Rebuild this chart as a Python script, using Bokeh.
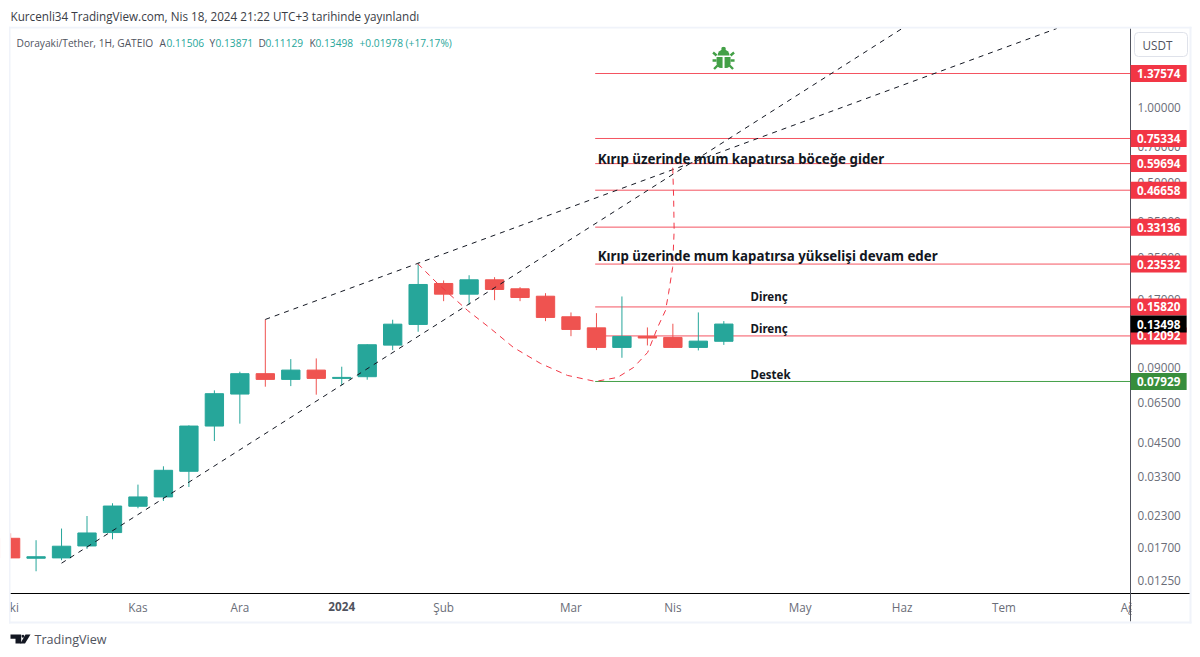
import base64
from bokeh.plotting import figure
from bokeh.embed import file_html
from bokeh.resources import INLINE
from bokeh.core.properties import value
from bokeh.models import (Range1d, FixedTicker, PrintfTickFormatter, Label, BoxAnnotation,
                          PolyAnnotation, ColumnDataSource)

GREEN = "#26a69a"
RED = "#ef5350"
LINE_RED = "#f23645"
FONT = "Open Sans"

# Weekly candles, one per bar of the time axis
opens = [0.01854, 0.01541, 0.01546, 0.01727, 0.01955, 0.02495, 0.02720, 0.03449, 0.05246, 0.07055,
         0.08522, 0.08083, 0.08811, 0.08158, 0.08288, 0.11104, 0.13449, 0.19658, 0.17802, 0.20343,
         0.18716, 0.17470, 0.14441, 0.13034, 0.10870, 0.12035, 0.11924, 0.10870, 0.11506]
highs = [0.01942, 0.01821, 0.02029, 0.02279, 0.02565, 0.03049, 0.03613, 0.05280, 0.07301, 0.08680,
         0.14087, 0.09755, 0.09818, 0.09091, 0.11176, 0.14048, 0.23877, 0.20212, 0.21216, 0.20842,
         0.19000, 0.17968, 0.15030, 0.14931, 0.17429, 0.13081, 0.13537, 0.15030, 0.13871]
lows = [0.01541, 0.01366, 0.01513, 0.01681, 0.01837, 0.02449, 0.02620, 0.02983, 0.04566, 0.05364,
        0.07554, 0.07596, 0.07015, 0.07647, 0.08061, 0.10603, 0.12570, 0.16687, 0.16139, 0.16844,
        0.16687, 0.13866, 0.12064, 0.10603, 0.09874, 0.11073, 0.10812, 0.10573, 0.11129]
closes = [0.01546, 0.01563, 0.01723, 0.01948, 0.02500, 0.02720, 0.03481, 0.05246, 0.07081, 0.08522,
          0.08083, 0.08811, 0.08158, 0.08234, 0.11144, 0.13485, 0.19477, 0.17802, 0.20343, 0.18595,
          0.17268, 0.14350, 0.12841, 0.10870, 0.12035, 0.11860, 0.10870, 0.11523, 0.13498]

# Horizontal levels
level_prices = [1.37574, 0.75334, 0.59694, 0.46658, 0.33136, 0.23532, 0.15820, 0.12092]
support_price = 0.07929
last_price = 0.13498
level_start = 22.95
level_end = 43.97

# Right axis
y_ticks = [0.0125, 0.017, 0.023, 0.033, 0.045, 0.065, 0.09, 0.17, 0.25, 0.35, 0.5, 0.7, 1.0]

# Time axis
month_ticks = [0.15, 5, 9, 17, 22, 26, 31, 35, 39, 43.85]
month_labels = ["ki", "Kas", "Ara", "Şub", "Mar", "Nis", "May", "Haz", "Tem", "Ağ"]
year_tick = 13
year_label = "2024"

# Trend lines and projection
trend_upper_x = [10, 41.07]
trend_upper_y = [0.14087, 2.0875]
trend_lower_x = [2, 35.0]
trend_lower_y = [0.01472, 2.0875]
curve_x = [15.98, 16.76, 17.94, 18.84, 19.74, 20.8, 21.86, 22.96, 23.83, 24.46, 25.01, 25.4, 25.71,
           25.83, 25.99, 26.05, 26.03, 25.99]
curve_y = [0.23656, 0.19658, 0.15311, 0.12960, 0.10870, 0.09374, 0.08388, 0.07929, 0.08234, 0.09033,
           0.10379, 0.13081, 0.15311, 0.17920, 0.22796, 0.32119, 0.43603, 0.59694]

# Notes on the chart
notes = ["Kırıp üzerinde mum kapatırsa böceğe gider", "Kırıp üzerinde mum kapatırsa yükselişi devam eder"]
notes_x = [23.05, 23.05]
notes_y = [0.6250, 0.25243]
small_notes = ["Direnç", "Direnç", "Destek"]
small_notes_x = [29.05, 29.05, 29.05]
small_notes_y = [0.17400, 0.12900, 0.08459]
bug_x = [27.99]
bug_y = [1.5812]

title = "Kurcenli34 TradingView.com, Nis 18, 2024 21:22 UTC+3 tarihinde yayınlandı"
header_parts = [("Dorayaki/Tether, 1H, GATEIO", "#50535e", 16), ("A", "#50535e", 159), ("0.11506", GREEN, 166),
                ("Y", "#50535e", 209), ("0.13871", GREEN, 215), ("D", "#50535e", 258), ("0.11129", GREEN, 265),
                ("K", "#50535e", 309), ("0.13498", GREEN, 315), ("+0.01978 (+17.17%)", GREEN, 359)]

p = figure(width=1192, height=650, x_range=Range1d(-0.3965, 46.40), y_range=Range1d(0.006555, 2.1267),
           y_axis_type="log", y_axis_location="right", toolbar_location=None, output_backend="svg",
           min_border_left=0, min_border_right=0, min_border_top=26, min_border_bottom=0,
           background_fill_color="white", border_fill_color="white", outline_line_color=None)
p.title.text = title
p.title.text_font = FONT
p.title.text_font_size = "11.7px"
p.title.text_font_style = "normal"
p.title.text_color = "#3a3d46"
p.title.align = "left"
p.title.offset = 10
p.title.standoff = 6
p.xgrid.visible = False
p.ygrid.visible = False

xa = p.xaxis[0]
xa.fixed_location = 0.011118
xa.bounds = (-0.004, 46.33)
xa.ticker = FixedTicker(ticks=month_ticks + [year_tick])
xa.major_label_overrides = {**dict(zip(month_ticks, month_labels)), year_tick: ""}
xa.major_tick_line_color = None
xa.minor_tick_line_color = None
xa.major_tick_out = 0
xa.major_tick_in = 0
xa.axis_line_color = "#000000"
xa.major_label_text_color = "#6a6d78"
xa.major_label_text_font = FONT
xa.major_label_text_font_size = "11.7px"
xa.major_label_standoff = 6

ya = p.yaxis[0]
ya.fixed_location = level_end
ya.bounds = (0.008578, 2.0875)
ya.ticker = FixedTicker(ticks=y_ticks)
ya.formatter = PrintfTickFormatter(format="%.5f")
ya.major_tick_line_color = None
ya.minor_tick_line_color = None
ya.major_tick_out = 0
ya.major_tick_in = 0
ya.axis_line_color = "#50535e"
ya.major_label_text_color = "#6a6d78"
ya.major_label_text_font = FONT
ya.major_label_text_font_size = "11.7px"
ya.major_label_standoff = 7

# Level lines go under the candles
level_n = len(level_prices)
p.segment(x0=[level_start] * level_n, x1=[level_end] * level_n, y0=level_prices, y1=level_prices,
          line_color=LINE_RED, line_alpha=0.85, line_width=1)
p.segment(x0=[level_start], x1=[level_end], y0=[support_price], y1=[support_price], line_color="#43a047", line_width=1)

idx = list(range(len(opens)))
src = ColumnDataSource(dict(
    x=idx, o=opens, h=highs, l=lows, c=closes,
    color=[GREEN if c >= o else RED for o, c in zip(opens, closes)],
    top=[max(o, c) for o, c in zip(opens, closes)],
    bottom=[min(o, c) for o, c in zip(opens, closes)],
))
p.segment(x0="x", x1="x", y0="l", y1="h", line_color="color", line_width=1, source=src)
p.vbar(x="x", width=0.72, top="top", bottom="bottom", fill_color="color", line_color="color", line_width=1, source=src)

p.line(trend_upper_x, trend_upper_y, line_color="#131722", line_width=1, line_dash="5 5")
p.line(trend_lower_x, trend_lower_y, line_color="#131722", line_width=1, line_dash="5 5")
p.line(curve_x, curve_y, line_color=LINE_RED, line_width=1, line_dash="6 5")

p.text(x=notes_x, y=notes_y, text=notes, text_font=value("Noto Sans"), text_font_size="13.3px",
       text_font_style="bold", text_color="#131722", text_baseline="middle")
p.text(x=small_notes_x, y=small_notes_y, text=small_notes, text_font=value("Noto Sans"), text_font_size="11.5px",
       text_font_style="bold", text_color="#131722", text_baseline="middle")

bug_svg = ('<svg xmlns="http://www.w3.org/2000/svg" viewBox="0 0 24 24"><g fill="#43a047" stroke="#43a047">'
           '<path d="M6 9a6 6 0 0 1 12 0z" stroke="none"/>'
           '<circle cx="12" cy="2.6" r="2.3" stroke="none"/>'
           '<path d="M5 10.5h6v11h-1.5a4.5 4.5 0 0 1-4.5-4.5zM19 10.5h-6v11h1.5a4.5 4.5 0 0 0 4.5-4.5z" stroke="none"/>'
           '<path d="M5 9L1.5 6M5 14H1M6 19l-3.5 3.5M19 9l3.5-3M19 14h4M18 19l3.5 3.5" stroke-width="2.4" fill="none"/>'
           '</g></svg>')
bug_url = "data:image/svg+xml;base64," + base64.b64encode(bug_svg.encode()).decode()
p.image_url(url=[bug_url], x=bug_x, y=bug_y, w=24, h=24, w_units="screen", h_units="screen", anchor="center")


def cbox(l, r, t, b, color):
    p.add_layout(BoxAnnotation(left=l, right=r, top=t, bottom=b, left_units="canvas", right_units="canvas",
                               top_units="canvas", bottom_units="canvas", fill_color=color, fill_alpha=1,
                               line_color=None))


# White masks: the first candle's left half, the last month label's right part
cbox(0, 10, 26, 590, "white")
cbox(1131, 1140, 595, 619, "white")
# Outer light frame and the axis lines' continuation into the corner
cbox(8.5, 10, 26, 623, "#f0f3fa")
cbox(1189, 1191, 26, 623, "#f0f3fa")
cbox(8.5, 1191, 26, 28, "#f0f3fa")
cbox(8.5, 1191, 621, 623, "#f0f3fa")

# USDT button
p.add_layout(BoxAnnotation(left=1134, right=1187, top=32, bottom=56, left_units="canvas", right_units="canvas",
                           top_units="canvas", bottom_units="canvas", fill_color="white", fill_alpha=1,
                           line_color="#dfe2ea", line_alpha=1, line_width=1, border_radius=4))
p.add_layout(Label(x=1157, y=44, x_units="canvas", y_units="canvas", text="USDT", text_font=FONT,
                   text_font_size="11.7px", text_color="#50535e", text_align="center", text_baseline="middle"))

# Price badges on the right scale
badge_prices = level_prices + [support_price, last_price]
badge_colors = [LINE_RED] * level_n + ["#388e3c", "#000000"]
badge_n = len(badge_prices)
p.rect(x=[45.07] * badge_n, y=badge_prices, width=2.2, height=17, height_units="screen",
       fill_color=badge_colors, line_color=None, level="annotation")
p.text(x=[45.07] * badge_n, y=badge_prices, text=[f"{v:.5f}" for v in badge_prices], text_font=value(FONT),
       text_font_size="11.7px", text_font_style="bold", text_color="white", text_align="center",
       text_baseline="middle", level="annotation")

for text, color, px in header_parts:
    p.add_layout(Label(x=px, y=42, x_units="canvas", y_units="canvas", text=text, text_font=FONT,
                       text_font_size="10.2px", text_color=color, text_baseline="middle"))

p.add_layout(Label(x=year_tick, y=606, x_units="data", y_units="canvas", text=year_label,
                   text_font=FONT, text_font_size="11.7px", text_font_style="bold", text_color="#50535e",
                   text_align="center", text_baseline="middle"))

p.add_layout(Label(x=34, y=639, x_units="canvas", y_units="canvas", text="TradingView", text_font=FONT,
                   text_font_size="12.6px", text_color="#50535e", text_baseline="middle"))

# Logo mark
for xs, ys in [([10, 20.7, 20.7, 15, 15, 10], [634, 634, 643, 643, 638.3, 638.3]),
               ([25, 30, 24.5, 19.8], [634, 634, 643, 643]),
               ([21.2, 23, 24.2, 22.6, 21.2], [634.5, 634.2, 635.8, 637.6, 636.6])]:
    p.add_layout(PolyAnnotation(xs=xs, ys=ys, xs_units="canvas", ys_units="canvas", fill_color="#131722",
                                fill_alpha=1, line_color=None))

open("out.html", "w").write(file_html(p, INLINE))
